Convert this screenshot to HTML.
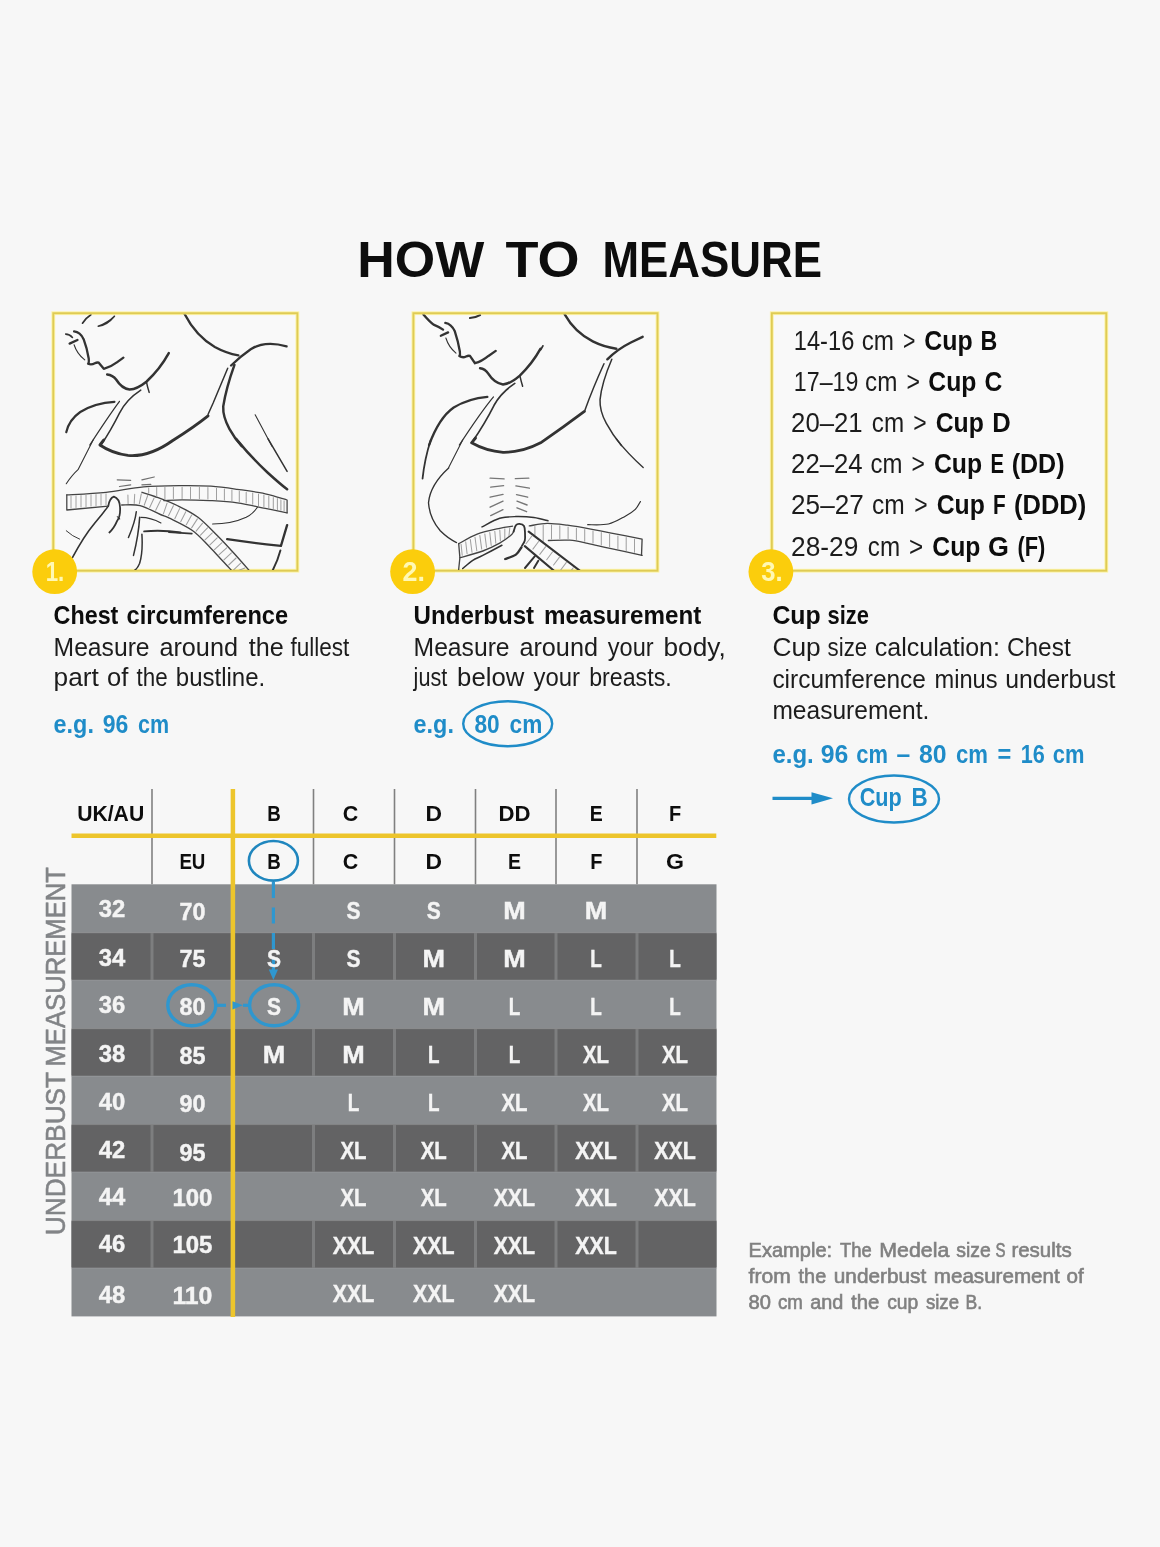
<!DOCTYPE html>
<html lang="en"><head><meta charset="utf-8"><title>How to measure</title>
<style>html,body{margin:0;padding:0;background:#f7f7f7;}body{width:1160px;height:1547px;overflow:hidden;font-family:"Liberation Sans", sans-serif;}svg{display:block;filter:blur(0.55px)}</style>
</head><body>
<svg width="1160" height="1547" viewBox="0 0 1160 1547" font-family='"Liberation Sans", sans-serif'>
<rect width="1160" height="1547" fill="#f7f7f7"/>
<rect x="53.3" y="313.2" width="244.1" height="257.5" fill="#f9f9f9" stroke="#fcf3a6" stroke-width="3.8"/>
<rect x="53.3" y="313.2" width="244.1" height="257.5" fill="none" stroke="#dfcb55" stroke-width="1.9"/>
<rect x="413.4" y="313.2" width="244.1" height="257.5" fill="#f9f9f9" stroke="#fcf3a6" stroke-width="3.8"/>
<rect x="413.4" y="313.2" width="244.1" height="257.5" fill="none" stroke="#dfcb55" stroke-width="1.9"/>
<rect x="771.8" y="313.2" width="334.5" height="257.5" fill="#f9f9f9" stroke="#fcf3a6" stroke-width="3.8"/>
<rect x="771.8" y="313.2" width="334.5" height="257.5" fill="none" stroke="#dfcb55" stroke-width="1.9"/>
<g fill="none" stroke="#333333" stroke-linecap="round" stroke-linejoin="round" clip-path="url(#clip1)">
<clipPath id="clip1"><rect x="54" y="314.5" width="243" height="255.5"/></clipPath>
<g transform="translate(50 310) scale(0.11207)">
<path d="M290 118Q320 70 365 42" stroke-width="14.64"/>
<path d="M430 145Q510 135 575 55Q520 110 430 145Z" stroke-width="13.42" fill="#333"/>
<path d="M140 215Q175 215 200 245" stroke-width="14.64"/>
<path d="M175 300L245 268" stroke-width="20.74"/>
<path d="M215 190Q270 195 300 260Q330 340 345 430Q350 470 340 480Q370 492 400 475Q420 465 435 470L480 525Q540 510 600 465L655 425" stroke-width="20.74"/>
<path d="M215 310Q240 390 310 445" stroke-width="9.76"/>
<path d="M510 575Q560 580 590 620Q640 700 710 710Q780 705 860 640Q980 530 1060 385" stroke-width="21.96"/>
<path d="M860 640Q870 690 885 735" stroke-width="13.42"/>
<path d="M620 815Q520 950 355 1205" stroke-width="10.98"/>
<path d="M810 715Q680 800 620 920Q540 1080 455 1205" stroke-width="13.42"/>
<path d="M575 820Q400 830 270 910Q170 980 145 1090" stroke-width="19.52"/>
</g>
<g transform="translate(170 310) scale(0.11207)">
<path d="M130 35Q230 230 400 330Q500 385 610 405" stroke-width="20.74"/>
<path d="M545 495Q620 420 720 350Q850 270 1040 325" stroke-width="20.74"/>
<path d="M575 490Q500 700 475 860Q470 950 530 1060Q580 1150 640 1215" stroke-width="21.96"/>
<path d="M515 520Q440 700 385 830L340 930" stroke-width="13.42"/>
<path d="M760 935L910 1215" stroke-width="9.76"/>
</g>
<g transform="translate(110 380) scale(0.11207)">
<path d="M-55 535L-90 580Q20 655 160 673Q350 690 560 540Q750 420 875 320" stroke-width="25.62"/>
</g>
<g transform="translate(50 440) scale(0.11207)">
<path d="M385 0L250 265Q200 310 145 390" stroke-width="9.76"/>
<path d="M520 590Q530 520 570 505Q620 520 625 600Q630 680 600 720Q570 790 530 825" stroke-width="15.86"/>
<path d="M600 685Q615 690 622 705" stroke-width="9.76"/>
<path d="M520 590Q470 660 400 740Q300 860 200 1050" stroke-width="14.64"/>
<path d="M770 640Q760 730 700 870" stroke-width="13.42"/>
<path d="M800 690Q790 850 745 1030" stroke-width="13.42"/>
<path d="M820 840Q830 1000 800 1100Q780 1150 750 1165" stroke-width="13.42"/>
<path d="M810 690Q900 690 990 740" stroke-width="9.76"/>
<path d="M840 815Q1000 800 1165 825" stroke-width="17.08"/>
<path d="M145 810Q200 860 265 885" stroke-width="8.54"/>
<path d="M600 355L720 360M620 415L720 400M820 355L930 330M820 400L900 395" stroke-width="10.98" stroke="#707070"/>
</g>
<g transform="translate(170 440) scale(0.11207)">
<path d="M590 -10Q720 150 870 290Q980 390 1045 440" stroke-width="21.96"/>
<path d="M875 -10L1045 280" stroke-width="13.42"/>
<path d="M380 750Q550 750 680 690Q740 660 780 600" stroke-width="9.76"/>
<path d="M-10 822L195 835" stroke-width="14.64"/>
<path d="M510 885Q750 920 990 945L1045 760" stroke-width="20.74"/>
<path d="M985 985Q960 1080 910 1175" stroke-width="17.08"/>
</g>
<path d="M66.8 494.9C73.3 494.5 93.2 493.6 106.0 492.3C118.8 491.0 130.8 487.9 143.6 486.8C156.4 485.7 171.6 485.7 182.8 485.6C194.0 485.5 201.9 485.6 211.0 486.2C220.1 486.8 228.1 488.0 237.2 489.3C246.2 490.6 257.0 492.0 265.3 493.8C273.6 495.6 283.5 499.0 287.1 500.0L287.1 512.8" stroke-width="1.28" stroke="#444"/>
<path d="M66.8 494.9L66.8 510L108.3 506.1" stroke-width="1.28" stroke="#444"/>
<path d="M163.8 500.6C166.8 500.5 174.3 499.8 182.0 499.8C189.7 499.8 200.8 500.1 210.0 500.6C219.2 501.1 228.0 501.5 237.2 502.8C246.4 504.1 257.0 506.7 265.3 508.4C273.6 510.1 283.5 512.1 287.1 512.8" stroke-width="1.28" stroke="#444"/>
<path d="M142.0 492.3C144.1 493.0 148.9 494.3 154.8 496.5C160.7 498.7 170.0 502.0 177.2 505.5C184.4 509.0 191.4 512.3 198.0 517.3C204.6 522.3 211.2 529.5 217.0 535.3C222.8 541.1 227.1 545.8 232.8 552.0C238.5 558.2 248.0 569.1 251.0 572.5" stroke-width="1.37" stroke="#444"/>
<path d="M121.7 505.0C124.8 505.1 133.6 504.0 140.0 505.6C146.4 507.2 155.6 512.5 160.4 514.5C165.2 516.5 163.6 515.2 168.9 517.9C174.2 520.6 185.7 525.7 192.4 530.5C199.1 535.3 204.1 541.4 209.2 546.5C214.2 551.6 218.6 556.7 222.7 561.0C226.8 565.3 231.7 570.6 233.5 572.5" stroke-width="1.37" stroke="#444"/>
<path d="M71.0 496.2V508.0M76.0 495.9V507.5M81.0 495.6V507.1M86.0 495.2V506.6M91.0 494.9V506.1M96.0 494.6V505.7M101.0 494.2V505.2M106.0 493.9V504.7" stroke="#a0a0a0" stroke-width="0.98"/>
<path d="M173.4 487.3V498.6M182.1 487.2V498.4M190.5 487.2V498.5M199.4 487.3V498.7M207.9 487.6V499.1M216.5 488.3V499.6M224.4 489.1V500.1M231.9 490.1V500.7M239.3 491.2V501.7M246.2 492.2V503.0M252.7 493.1V504.3M258.5 494.1V505.6M263.9 495.1V506.7M268.8 496.2V507.7M273.3 497.4V508.6M277.4 498.6V509.4M280.9 499.7V510.2M284.1 500.7V510.8" stroke="#a0a0a0" stroke-width="1.04"/>
<path d="M127.9 495.0L128.1 503.4M134.7 494.2L134.2 503.4M141.3 493.8L139.3 503.8M147.7 495.5L144.2 505.2M154.1 498.0L149.7 507.5M160.5 500.5L155.7 510.3M167.1 503.1L163.4 513.8M173.4 505.7L168.5 515.7M179.6 508.6L174.8 518.8M185.8 511.7L180.7 521.7M191.7 515.1L186.3 524.7M197.4 518.9L191.6 527.9M202.6 523.2L196.1 531.2M207.5 527.9L200.5 535.2M212.3 532.8L205.0 539.8M217.2 537.8L209.9 544.9M222.0 542.7L214.5 549.7M226.7 547.8L219.1 554.7M231.4 552.9L223.9 559.9M236.1 558.0L228.7 565.0M240.7 563.2L233.4 570.1M244.9 567.9L235.1 571.9" stroke="#a0a0a0" stroke-width="1.04"/>
<path d="M148.7 487.9V493.2M156.7 487.5V496.0M164.9 487.3V499.1" stroke="#a0a0a0" stroke-width="1.04"/>
</g>
<g fill="none" stroke="#333333" stroke-linecap="round" stroke-linejoin="round" clip-path="url(#clip2)">
<clipPath id="clip2"><rect x="414" y="314.5" width="243" height="255.5"/></clipPath>
<g transform="translate(410 310) scale(0.11207)">
<path d="M120 40Q170 100 210 130Q260 150 295 175" stroke-width="20.74"/>
<path d="M535 72Q590 65 625 45" stroke-width="18.30"/>
<path d="M275 230L340 200" stroke-width="20.74"/>
<path d="M315 115Q370 125 400 190Q430 280 445 370Q450 400 440 410Q470 430 500 415Q520 405 535 410L580 475Q640 460 700 410L765 365" stroke-width="20.74"/>
<path d="M320 250Q345 330 410 385" stroke-width="9.76"/>
<path d="M625 520Q670 525 700 570Q750 650 830 665Q900 655 980 585Q1090 480 1165 345" stroke-width="21.96"/>
<path d="M980 585Q990 630 1005 680" stroke-width="13.42"/>
<path d="M745 775Q640 900 440 1205" stroke-width="10.98"/>
<path d="M935 655Q810 740 750 850Q670 1010 550 1185" stroke-width="14.64"/>
<path d="M690 775Q520 790 390 870Q260 960 170 1205" stroke-width="20.74"/>
</g>
<g transform="translate(530 310) scale(0.11207)">
<path d="M310 40Q400 200 560 280Q660 330 770 345" stroke-width="21.96"/>
<path d="M690 440Q780 350 900 290L1005 240" stroke-width="21.96"/>
<path d="M95 355Q105 340 115 320" stroke-width="15.86"/>
<path d="M660 480Q560 700 490 895" stroke-width="13.42"/>
<path d="M730 440Q640 650 625 800Q620 900 680 1010Q740 1120 815 1210" stroke-width="13.42"/>
</g>
<g transform="translate(410 440) scale(0.11207)">
<path d="M185 0Q130 170 112 345" stroke-width="15.86"/>
<path d="M470 0L345 245" stroke-width="9.76"/>
<path d="M345 250Q180 400 165 560Q175 700 270 810Q340 880 415 915" stroke-width="12.20"/>
</g>
<g transform="translate(530 440) scale(0.11207)">
<path d="M770 -10Q870 120 1010 245" stroke-width="12.20"/>
</g>
<path d="M475.5 438L471.6 442.8Q486 451 503 452.3Q522 452.6 540.6 442.8Q563 427.5 584.4 411.4" stroke-width="2.81"/>
<path d="M490.1 478.1L504.1 478.9M490.7 487.1L503.6 485.7M490.1 497.2L503 494.4M490.1 507.2L503 501.1M490.7 515.6L503 509.7M515.3 478.7L528.8 478.1M515.9 485.9L529.4 488.2M516.5 494.6L527.7 497.2M517 501.1L527.1 505M517 507.8L526.6 511.7" stroke="#777" stroke-width="1.34"/>
<path d="M482.0 526.9C484.9 525.5 494.0 520.0 499.7 518.3C505.4 516.6 510.3 516.7 516.0 516.6C521.7 516.5 528.5 516.8 533.8 517.5C539.1 518.2 545.6 520.2 548.0 520.8" stroke-width="1.46"/>
<path d="M587.7 524.7C591.2 524.6 602.1 525.4 608.4 524.0C614.7 522.6 620.8 518.6 625.3 516.2C629.8 513.8 632.8 511.8 635.3 509.4C637.8 507.0 639.5 502.9 640.4 501.6" stroke-width="1.22"/>
<path d="M458.7 543.7C461.8 542.1 470.4 536.7 477.2 534.1C484.0 531.5 493.8 529.6 499.7 528.3C505.6 527.0 510.4 526.6 512.5 526.2" stroke-width="1.34" stroke="#444"/>
<path d="M459.9 557.7C463.7 556.6 476.2 553.4 482.8 551.0C489.4 548.6 495.0 545.7 499.7 543.1C504.4 540.5 508.6 537.2 510.9 535.3C513.2 533.4 513.1 532.2 513.6 531.6" stroke-width="1.34" stroke="#444"/>
<path d="M458.7 543.7L459.9 557.7L458.5 571" stroke-width="1.34" stroke="#444"/>
<path d="M462.7 568.5C464.4 567.1 469.4 562.5 472.8 560.3C476.2 558.1 478.0 557.9 482.8 555.4C487.6 552.9 498.7 547.0 501.9 545.3" stroke-width="1.59"/>
<path d="M461.1 544.2L462.2 555.3M465.7 541.8L467.1 553.8M470.3 539.4L472.0 552.3M475.0 537.3L476.8 550.7M479.8 535.4L481.7 549.1M484.8 533.9L486.5 547.3M489.8 532.6L491.2 545.4M494.8 531.3L495.8 543.2M499.8 530.0L500.4 540.9M504.8 528.8L504.8 538.4M509.8 527.8L509.0 535.6" stroke="#a0a0a0" stroke-width="1.04"/>
<path d="M513.6 531.6C514.0 530.5 514.9 526.6 515.9 525.3C516.9 524.0 518.0 523.8 519.4 523.9C520.8 524.0 523.1 524.5 524.0 526.0C524.9 527.5 524.9 530.3 525.0 532.7C525.1 535.1 525.3 538.4 524.8 540.5C524.3 542.6 522.5 544.8 522.0 545.6" stroke-width="1.83"/>
<path d="M521.5 547.2C520.6 548.4 518.6 552.6 515.9 554.6C513.2 556.6 507.0 558.3 505.2 559.0" stroke-width="2.32"/>
<path d="M529.3 525.9C532.3 525.5 540.9 523.4 547.2 523.3C553.6 523.2 559.9 524.2 567.4 525.2C574.9 526.2 585.0 528.0 592.1 529.3C599.2 530.6 601.7 531.1 610.0 532.8C618.3 534.4 636.8 538.1 642.1 539.2L641.5 555.4" stroke-width="1.34" stroke="#444"/>
<path d="M548.4 540.5C552.0 540.5 563.2 539.7 569.7 540.2C576.2 540.7 580.9 541.9 587.6 543.3C594.3 544.7 600.9 546.4 610.0 548.4C619.1 550.4 636.8 554.2 642.1 555.4" stroke-width="1.34" stroke="#444"/>
<path d="M534.9 526.5V534.9M543.2 525.2V541.2M551.5 525.0V538.9M559.8 525.8V538.6M568.1 526.9V538.6M576.4 528.2V539.5M584.7 529.6V541.2M593.0 531.1V543.0M601.3 532.6V544.9M609.6 534.3V546.8M617.9 536.0V548.6M626.2 537.6V550.4M634.5 539.3V552.2" stroke="#a0a0a0" stroke-width="1.04"/>
<path d="M528.7 531.6L580.5 571.2" stroke-width="2.07"/>
<path d="M524.8 546.1L554.5 571.2" stroke-width="2.07"/>
<path d="M531.9 536.0L526.0 543.8M538.8 541.3L532.9 549.1M545.7 546.6L539.8 554.4M552.6 551.8L546.7 559.7M559.5 557.1L553.6 565.0M566.4 562.4L560.5 570.2M573.3 567.7L567.4 575.5" stroke="#a0a0a0" stroke-width="1.04"/>
<path d="M534.9 556.2L525 568M538.3 560.7L534 568" stroke-width="1.95"/>
</g>
<circle cx="54.7" cy="571.7" r="22.4" fill="#fbcd0c"/>
<text x="45.7" y="581.2" font-size="28.5" font-weight="bold" fill="#fff8b4" text-anchor="start" textLength="18.6" lengthAdjust="spacingAndGlyphs">1.</text>
<circle cx="412.6" cy="571.7" r="22.4" fill="#fbcd0c"/>
<text x="402.6" y="581.2" font-size="28.5" font-weight="bold" fill="#fff8b4" text-anchor="start" textLength="22.4" lengthAdjust="spacingAndGlyphs">2.</text>
<circle cx="770.9" cy="571.7" r="22.4" fill="#fbcd0c"/>
<text x="761.2" y="581.2" font-size="28.5" font-weight="bold" fill="#fff8b4" text-anchor="start" textLength="21.4" lengthAdjust="spacingAndGlyphs">3.</text>
<text y="277" font-size="50" font-weight="bold" fill="#0d0d0d"><tspan x="357.2" textLength="127.0" lengthAdjust="spacingAndGlyphs">HOW</tspan> <tspan x="505.5" textLength="74.0" lengthAdjust="spacingAndGlyphs">TO</tspan> <tspan x="602.5" textLength="219.5" lengthAdjust="spacingAndGlyphs">MEASURE</tspan></text>
<text y="623.5" font-size="25" font-weight="bold" fill="#0d0d0d"><tspan x="53.6" textLength="64.8" lengthAdjust="spacingAndGlyphs">Chest</tspan> <tspan x="126.6" textLength="161.5" lengthAdjust="spacingAndGlyphs">circumference</tspan></text>
<text y="656" font-size="25" font-weight="normal" fill="#1c1c1c"><tspan x="53.6" textLength="96.0" lengthAdjust="spacingAndGlyphs">Measure</tspan> <tspan x="159.4" textLength="78.6" lengthAdjust="spacingAndGlyphs">around</tspan> <tspan x="248.8" textLength="35.0" lengthAdjust="spacingAndGlyphs">the</tspan> <tspan x="290.4" textLength="59.0" lengthAdjust="spacingAndGlyphs">fullest</tspan></text>
<text y="686" font-size="25" font-weight="normal" fill="#1c1c1c"><tspan x="53.6" textLength="45.2" lengthAdjust="spacingAndGlyphs">part</tspan> <tspan x="107" textLength="21.3" lengthAdjust="spacingAndGlyphs">of</tspan> <tspan x="136.5" textLength="31.1" lengthAdjust="spacingAndGlyphs">the</tspan> <tspan x="175.8" textLength="89.4" lengthAdjust="spacingAndGlyphs">bustline.</tspan></text>
<text y="733" font-size="25" font-weight="bold" fill="#1f8cc8"><tspan x="53.6" textLength="40.3" lengthAdjust="spacingAndGlyphs">e.g.</tspan> <tspan x="102.7" textLength="25.6" lengthAdjust="spacingAndGlyphs">96</tspan> <tspan x="138.1" textLength="31.1" lengthAdjust="spacingAndGlyphs">cm</tspan></text>
<text y="623.5" font-size="25" font-weight="bold" fill="#0d0d0d"><tspan x="413.6" textLength="120.5" lengthAdjust="spacingAndGlyphs">Underbust</tspan> <tspan x="544" textLength="157.2" lengthAdjust="spacingAndGlyphs">measurement</tspan></text>
<text y="656" font-size="25" font-weight="normal" fill="#1c1c1c"><tspan x="413.6" textLength="96.0" lengthAdjust="spacingAndGlyphs">Measure</tspan> <tspan x="519.4" textLength="78.6" lengthAdjust="spacingAndGlyphs">around</tspan> <tspan x="607.8" textLength="45.9" lengthAdjust="spacingAndGlyphs">your</tspan> <tspan x="663.5" textLength="62.2" lengthAdjust="spacingAndGlyphs">body,</tspan></text>
<text y="686" font-size="25" font-weight="normal" fill="#1c1c1c"><tspan x="413.6" textLength="33.7" lengthAdjust="spacingAndGlyphs">just</tspan> <tspan x="457.1" textLength="67.2" lengthAdjust="spacingAndGlyphs">below</tspan> <tspan x="533.5" textLength="46.5" lengthAdjust="spacingAndGlyphs">your</tspan> <tspan x="589.2" textLength="82.5" lengthAdjust="spacingAndGlyphs">breasts.</tspan></text>
<text y="733" font-size="25" font-weight="bold" fill="#1f8cc8"><tspan x="413.6" textLength="40.3" lengthAdjust="spacingAndGlyphs">e.g.</tspan> <tspan x="474.5" textLength="25.2" lengthAdjust="spacingAndGlyphs">80</tspan> <tspan x="509.6" textLength="32.7" lengthAdjust="spacingAndGlyphs">cm</tspan></text>
<ellipse cx="507.7" cy="723.7" rx="44.5" ry="22.5" fill="none" stroke="#1f8cc8" stroke-width="2.4"/>
<text y="624" font-size="25" font-weight="bold" fill="#0d0d0d"><tspan x="772.4" textLength="48.3" lengthAdjust="spacingAndGlyphs">Cup</tspan> <tspan x="827.6" textLength="41.4" lengthAdjust="spacingAndGlyphs">size</tspan></text>
<text y="656" font-size="25" font-weight="normal" fill="#1c1c1c"><tspan x="772.4" textLength="48.3" lengthAdjust="spacingAndGlyphs">Cup</tspan> <tspan x="827.6" textLength="39.6" lengthAdjust="spacingAndGlyphs">size</tspan> <tspan x="874.8" textLength="125.2" lengthAdjust="spacingAndGlyphs">calculation:</tspan> <tspan x="1006.9" textLength="63.8" lengthAdjust="spacingAndGlyphs">Chest</tspan></text>
<text y="687.5" font-size="25" font-weight="normal" fill="#1c1c1c"><tspan x="772.4" textLength="153.5" lengthAdjust="spacingAndGlyphs">circumference</tspan> <tspan x="934.5" textLength="63.1" lengthAdjust="spacingAndGlyphs">minus</tspan> <tspan x="1005.2" textLength="110.3" lengthAdjust="spacingAndGlyphs">underbust</tspan></text>
<text y="719.3" font-size="25" font-weight="normal" fill="#1c1c1c"><tspan x="772.4" textLength="156.9" lengthAdjust="spacingAndGlyphs">measurement.</tspan></text>
<text y="763" font-size="25" font-weight="bold" fill="#1f8cc8"><tspan x="772.4" textLength="41.4" lengthAdjust="spacingAndGlyphs">e.g.</tspan> <tspan x="820.7" textLength="27.6" lengthAdjust="spacingAndGlyphs">96</tspan> <tspan x="856.2" textLength="31.7" lengthAdjust="spacingAndGlyphs">cm</tspan> <tspan x="896.6" textLength="13.7" lengthAdjust="spacingAndGlyphs">–</tspan> <tspan x="919" textLength="27.6" lengthAdjust="spacingAndGlyphs">80</tspan> <tspan x="955.9" textLength="32.0" lengthAdjust="spacingAndGlyphs">cm</tspan> <tspan x="997.6" textLength="13.8" lengthAdjust="spacingAndGlyphs">=</tspan> <tspan x="1020.7" textLength="24.1" lengthAdjust="spacingAndGlyphs">16</tspan> <tspan x="1052.8" textLength="31.7" lengthAdjust="spacingAndGlyphs">cm</tspan></text>
<path d="M772.5 798.3H815" stroke="#1f8cc8" stroke-width="3.2" fill="none"/>
<path d="M811.5 792.2L833 798.3L811.5 804.4Z" fill="#1f8cc8"/>
<ellipse cx="894" cy="799" rx="45" ry="23.5" fill="none" stroke="#1f8cc8" stroke-width="2.4"/>
<text y="806" font-size="25" font-weight="bold" fill="#1f8cc8"><tspan x="859.7" textLength="42.0" lengthAdjust="spacingAndGlyphs">Cup</tspan> <tspan x="911.4" textLength="16.2" lengthAdjust="spacingAndGlyphs">B</tspan></text>
<text y="349.8" font-size="28" fill="#1c1c1c"><tspan x="793.8" textLength="60.5" lengthAdjust="spacingAndGlyphs">14-16</tspan> <tspan x="861.7" textLength="32.3" lengthAdjust="spacingAndGlyphs">cm</tspan> <tspan x="903.1" textLength="12.4" lengthAdjust="spacingAndGlyphs">&gt;</tspan> <tspan fill="#0d0d0d"><tspan x="924.3" font-weight="bold" textLength="48.4" lengthAdjust="spacingAndGlyphs">Cup</tspan> <tspan x="980.4" font-weight="bold" textLength="16.8" lengthAdjust="spacingAndGlyphs">B</tspan></tspan></text>
<text y="390.9" font-size="28" fill="#1c1c1c"><tspan x="793.8" textLength="64.6" lengthAdjust="spacingAndGlyphs">17–19</tspan> <tspan x="865.1" textLength="32.3" lengthAdjust="spacingAndGlyphs">cm</tspan> <tspan x="906.4" textLength="13.5" lengthAdjust="spacingAndGlyphs">&gt;</tspan> <tspan fill="#0d0d0d"><tspan x="928.3" font-weight="bold" textLength="48.1" lengthAdjust="spacingAndGlyphs">Cup</tspan> <tspan x="984.5" font-weight="bold" textLength="17.8" lengthAdjust="spacingAndGlyphs">C</tspan></tspan></text>
<text y="432.1" font-size="28" fill="#1c1c1c"><tspan x="791.1" textLength="71.6" lengthAdjust="spacingAndGlyphs">20–21</tspan> <tspan x="871.8" textLength="32.3" lengthAdjust="spacingAndGlyphs">cm</tspan> <tspan x="913.2" textLength="13.4" lengthAdjust="spacingAndGlyphs">&gt;</tspan> <tspan fill="#0d0d0d"><tspan x="935.7" font-weight="bold" textLength="48.1" lengthAdjust="spacingAndGlyphs">Cup</tspan> <tspan x="992.2" font-weight="bold" textLength="18.5" lengthAdjust="spacingAndGlyphs">D</tspan></tspan></text>
<text y="473.2" font-size="28" fill="#1c1c1c"><tspan x="791.1" textLength="71.6" lengthAdjust="spacingAndGlyphs">22–24</tspan> <tspan x="870.5" textLength="31.9" lengthAdjust="spacingAndGlyphs">cm</tspan> <tspan x="911.5" textLength="13.4" lengthAdjust="spacingAndGlyphs">&gt;</tspan> <tspan fill="#0d0d0d"><tspan x="934" font-weight="bold" textLength="48.1" lengthAdjust="spacingAndGlyphs">Cup</tspan> <tspan x="990.5" font-weight="bold" textLength="13.5" lengthAdjust="spacingAndGlyphs">E</tspan> <tspan x="1011.7" font-weight="bold" textLength="52.8" lengthAdjust="spacingAndGlyphs">(DD)</tspan></tspan></text>
<text y="514.4" font-size="28" fill="#1c1c1c"><tspan x="791.1" textLength="72.6" lengthAdjust="spacingAndGlyphs">25–27</tspan> <tspan x="872.1" textLength="32.7" lengthAdjust="spacingAndGlyphs">cm</tspan> <tspan x="914.2" textLength="13.4" lengthAdjust="spacingAndGlyphs">&gt;</tspan> <tspan fill="#0d0d0d"><tspan x="936.7" font-weight="bold" textLength="48.1" lengthAdjust="spacingAndGlyphs">Cup</tspan> <tspan x="992.9" font-weight="bold" textLength="12.7" lengthAdjust="spacingAndGlyphs">F</tspan> <tspan x="1014" font-weight="bold" textLength="72.3" lengthAdjust="spacingAndGlyphs">(DDD)</tspan></tspan></text>
<text y="555.5" font-size="28" fill="#1c1c1c"><tspan x="791.1" textLength="67.3" lengthAdjust="spacingAndGlyphs">28-29</tspan> <tspan x="867.8" textLength="32.3" lengthAdjust="spacingAndGlyphs">cm</tspan> <tspan x="909.1" textLength="14.2" lengthAdjust="spacingAndGlyphs">&gt;</tspan> <tspan fill="#0d0d0d"><tspan x="932.3" font-weight="bold" textLength="48.1" lengthAdjust="spacingAndGlyphs">Cup</tspan> <tspan x="988.1" font-weight="bold" textLength="20.9" lengthAdjust="spacingAndGlyphs">G</tspan> <tspan x="1017.4" font-weight="bold" textLength="27.9" lengthAdjust="spacingAndGlyphs">(F)</tspan></tspan></text>
<rect x="71.5" y="884.3" width="645.0" height="48.3" fill="#888b8e"/>
<rect x="71.5" y="932.3" width="645.0" height="48.3" fill="#7d7e7f"/>
<rect x="71.5" y="933.3" width="79.0" height="46.3" fill="#636364"/>
<rect x="153.5" y="933.3" width="78.0" height="46.3" fill="#636364"/>
<rect x="234.5" y="933.3" width="77.5" height="46.3" fill="#636364"/>
<rect x="315.0" y="933.3" width="78.0" height="46.3" fill="#636364"/>
<rect x="396.0" y="933.3" width="78.0" height="46.3" fill="#636364"/>
<rect x="477.0" y="933.3" width="77.5" height="46.3" fill="#636364"/>
<rect x="557.5" y="933.3" width="78.0" height="46.3" fill="#636364"/>
<rect x="638.5" y="933.3" width="78.0" height="46.3" fill="#636364"/>
<rect x="71.5" y="980.2" width="645.0" height="48.3" fill="#888b8e"/>
<rect x="71.5" y="1028.2" width="645.0" height="48.3" fill="#7d7e7f"/>
<rect x="71.5" y="1029.2" width="79.0" height="46.3" fill="#636364"/>
<rect x="153.5" y="1029.2" width="78.0" height="46.3" fill="#636364"/>
<rect x="234.5" y="1029.2" width="77.5" height="46.3" fill="#636364"/>
<rect x="315.0" y="1029.2" width="78.0" height="46.3" fill="#636364"/>
<rect x="396.0" y="1029.2" width="78.0" height="46.3" fill="#636364"/>
<rect x="477.0" y="1029.2" width="77.5" height="46.3" fill="#636364"/>
<rect x="557.5" y="1029.2" width="78.0" height="46.3" fill="#636364"/>
<rect x="638.5" y="1029.2" width="78.0" height="46.3" fill="#636364"/>
<rect x="71.5" y="1076.2" width="645.0" height="48.3" fill="#888b8e"/>
<rect x="71.5" y="1124.1" width="645.0" height="48.3" fill="#7d7e7f"/>
<rect x="71.5" y="1125.1" width="79.0" height="46.3" fill="#636364"/>
<rect x="153.5" y="1125.1" width="78.0" height="46.3" fill="#636364"/>
<rect x="234.5" y="1125.1" width="77.5" height="46.3" fill="#636364"/>
<rect x="315.0" y="1125.1" width="78.0" height="46.3" fill="#636364"/>
<rect x="396.0" y="1125.1" width="78.0" height="46.3" fill="#636364"/>
<rect x="477.0" y="1125.1" width="77.5" height="46.3" fill="#636364"/>
<rect x="557.5" y="1125.1" width="78.0" height="46.3" fill="#636364"/>
<rect x="638.5" y="1125.1" width="78.0" height="46.3" fill="#636364"/>
<rect x="71.5" y="1172.1" width="645.0" height="48.3" fill="#888b8e"/>
<rect x="71.5" y="1220.1" width="645.0" height="48.3" fill="#7d7e7f"/>
<rect x="71.5" y="1221.1" width="79.0" height="46.3" fill="#636364"/>
<rect x="153.5" y="1221.1" width="78.0" height="46.3" fill="#636364"/>
<rect x="234.5" y="1221.1" width="77.5" height="46.3" fill="#636364"/>
<rect x="315.0" y="1221.1" width="78.0" height="46.3" fill="#636364"/>
<rect x="396.0" y="1221.1" width="78.0" height="46.3" fill="#636364"/>
<rect x="477.0" y="1221.1" width="77.5" height="46.3" fill="#636364"/>
<rect x="557.5" y="1221.1" width="78.0" height="46.3" fill="#636364"/>
<rect x="638.5" y="1221.1" width="78.0" height="46.3" fill="#636364"/>
<rect x="71.5" y="1268.1" width="645.0" height="48.3" fill="#888b8e"/>
<path d="M152 789V884.3" stroke="#808080" stroke-width="1.6"/>
<path d="M313.5 789V884.3" stroke="#808080" stroke-width="1.6"/>
<path d="M394.5 789V884.3" stroke="#808080" stroke-width="1.6"/>
<path d="M475.5 789V884.3" stroke="#808080" stroke-width="1.6"/>
<path d="M556 789V884.3" stroke="#808080" stroke-width="1.6"/>
<path d="M637 789V884.3" stroke="#808080" stroke-width="1.6"/>
<path d="M71.5 835.7H716.3" stroke="#edc52c" stroke-width="4.4"/>
<path d="M232.9 789V1317" stroke="#edc52c" stroke-width="4.5"/>
<ellipse cx="273.4" cy="860.8" rx="24.5" ry="19.8" fill="none" stroke="#1f86be" stroke-width="2.6"/>
<ellipse cx="191.8" cy="1005.2" rx="24" ry="20.5" fill="none" stroke="#2f97cf" stroke-width="3.4"/>
<ellipse cx="274.1" cy="1005.2" rx="24.5" ry="20.5" fill="none" stroke="#2f97cf" stroke-width="3.4"/>
<path d="M273.4 882V970" stroke="#2f97cf" stroke-width="3.2" stroke-dasharray="16 9.5" fill="none"/>
<path d="M268.8 969.5H278L273.4 980Z" fill="#2f97cf"/>
<path d="M217 1005.3H226" stroke="#2f97cf" stroke-width="3.2" fill="none"/>
<path d="M232.5 1001.2V1009.4L243 1005.3Z" fill="#2f97cf"/>
<path d="M243 1005.3H249" stroke="#2f97cf" stroke-width="3.2" fill="none"/>
<text x="110.7" y="820.8" font-size="21.5" font-weight="bold" fill="#0d0d0d" text-anchor="middle" textLength="67" lengthAdjust="spacingAndGlyphs">UK/AU</text>
<text x="192.4" y="868.8" font-size="21.5" font-weight="bold" fill="#0d0d0d" text-anchor="middle" textLength="26" lengthAdjust="spacingAndGlyphs">EU</text>
<text x="274" y="820.6" font-size="21.5" font-weight="bold" fill="#0d0d0d" text-anchor="middle" textLength="13.5" lengthAdjust="spacingAndGlyphs">B</text>
<text x="350.5" y="820.6" font-size="21.5" font-weight="bold" fill="#0d0d0d" text-anchor="middle" textLength="15.5" lengthAdjust="spacingAndGlyphs">C</text>
<text x="433.7" y="820.6" font-size="21.5" font-weight="bold" fill="#0d0d0d" text-anchor="middle" textLength="16.5" lengthAdjust="spacingAndGlyphs">D</text>
<text x="514.4" y="820.6" font-size="21.5" font-weight="bold" fill="#0d0d0d" text-anchor="middle" textLength="32" lengthAdjust="spacingAndGlyphs">DD</text>
<text x="596.3" y="820.6" font-size="21.5" font-weight="bold" fill="#0d0d0d" text-anchor="middle" textLength="13" lengthAdjust="spacingAndGlyphs">E</text>
<text x="675" y="820.6" font-size="21.5" font-weight="bold" fill="#0d0d0d" text-anchor="middle" textLength="12.2" lengthAdjust="spacingAndGlyphs">F</text>
<text x="274" y="868.8" font-size="21.5" font-weight="bold" fill="#0d0d0d" text-anchor="middle" textLength="13.5" lengthAdjust="spacingAndGlyphs">B</text>
<text x="350.5" y="868.8" font-size="21.5" font-weight="bold" fill="#0d0d0d" text-anchor="middle" textLength="15.5" lengthAdjust="spacingAndGlyphs">C</text>
<text x="433.7" y="868.8" font-size="21.5" font-weight="bold" fill="#0d0d0d" text-anchor="middle" textLength="16.5" lengthAdjust="spacingAndGlyphs">D</text>
<text x="514.4" y="868.8" font-size="21.5" font-weight="bold" fill="#0d0d0d" text-anchor="middle" textLength="13" lengthAdjust="spacingAndGlyphs">E</text>
<text x="596.3" y="868.8" font-size="21.5" font-weight="bold" fill="#0d0d0d" text-anchor="middle" textLength="12.2" lengthAdjust="spacingAndGlyphs">F</text>
<text x="675" y="868.8" font-size="21.5" font-weight="bold" fill="#0d0d0d" text-anchor="middle" textLength="18" lengthAdjust="spacingAndGlyphs">G</text>
<text x="112" y="917.2" font-size="24.5" font-weight="bold" fill="#f4f4f4" text-anchor="middle" textLength="26.5" lengthAdjust="spacingAndGlyphs" stroke="#f4f4f4" stroke-width="0.45">32</text>
<text x="192.4" y="919.5" font-size="24.5" font-weight="bold" fill="#f4f4f4" text-anchor="middle" textLength="26" lengthAdjust="spacingAndGlyphs" stroke="#f4f4f4" stroke-width="0.45">70</text>
<text x="112" y="965.5" font-size="24.5" font-weight="bold" fill="#f4f4f4" text-anchor="middle" textLength="26.5" lengthAdjust="spacingAndGlyphs" stroke="#f4f4f4" stroke-width="0.45">34</text>
<text x="192.4" y="967.3" font-size="24.5" font-weight="bold" fill="#f4f4f4" text-anchor="middle" textLength="26" lengthAdjust="spacingAndGlyphs" stroke="#f4f4f4" stroke-width="0.45">75</text>
<text x="112" y="1013.3" font-size="24.5" font-weight="bold" fill="#f4f4f4" text-anchor="middle" textLength="26.5" lengthAdjust="spacingAndGlyphs" stroke="#f4f4f4" stroke-width="0.45">36</text>
<text x="192.4" y="1015.4" font-size="24.5" font-weight="bold" fill="#f4f4f4" text-anchor="middle" textLength="26" lengthAdjust="spacingAndGlyphs" stroke="#f4f4f4" stroke-width="0.45">80</text>
<text x="112" y="1062.3" font-size="24.5" font-weight="bold" fill="#f4f4f4" text-anchor="middle" textLength="26.5" lengthAdjust="spacingAndGlyphs" stroke="#f4f4f4" stroke-width="0.45">38</text>
<text x="192.4" y="1063.6" font-size="24.5" font-weight="bold" fill="#f4f4f4" text-anchor="middle" textLength="26" lengthAdjust="spacingAndGlyphs" stroke="#f4f4f4" stroke-width="0.45">85</text>
<text x="112" y="1109.5" font-size="24.5" font-weight="bold" fill="#f4f4f4" text-anchor="middle" textLength="26.5" lengthAdjust="spacingAndGlyphs" stroke="#f4f4f4" stroke-width="0.45">40</text>
<text x="192.4" y="1111.8" font-size="24.5" font-weight="bold" fill="#f4f4f4" text-anchor="middle" textLength="26" lengthAdjust="spacingAndGlyphs" stroke="#f4f4f4" stroke-width="0.45">90</text>
<text x="112" y="1158" font-size="24.5" font-weight="bold" fill="#f4f4f4" text-anchor="middle" textLength="26.5" lengthAdjust="spacingAndGlyphs" stroke="#f4f4f4" stroke-width="0.45">42</text>
<text x="192.4" y="1160.6" font-size="24.5" font-weight="bold" fill="#f4f4f4" text-anchor="middle" textLength="26" lengthAdjust="spacingAndGlyphs" stroke="#f4f4f4" stroke-width="0.45">95</text>
<text x="112" y="1205.2" font-size="24.5" font-weight="bold" fill="#f4f4f4" text-anchor="middle" textLength="26.5" lengthAdjust="spacingAndGlyphs" stroke="#f4f4f4" stroke-width="0.45">44</text>
<text x="192.4" y="1205.9" font-size="24.5" font-weight="bold" fill="#f4f4f4" text-anchor="middle" textLength="40" lengthAdjust="spacingAndGlyphs" stroke="#f4f4f4" stroke-width="0.45">100</text>
<text x="112" y="1252" font-size="24.5" font-weight="bold" fill="#f4f4f4" text-anchor="middle" textLength="26.5" lengthAdjust="spacingAndGlyphs" stroke="#f4f4f4" stroke-width="0.45">46</text>
<text x="192.4" y="1252.8" font-size="24.5" font-weight="bold" fill="#f4f4f4" text-anchor="middle" textLength="40" lengthAdjust="spacingAndGlyphs" stroke="#f4f4f4" stroke-width="0.45">105</text>
<text x="112" y="1303.2" font-size="24.5" font-weight="bold" fill="#f4f4f4" text-anchor="middle" textLength="26.5" lengthAdjust="spacingAndGlyphs" stroke="#f4f4f4" stroke-width="0.45">48</text>
<text x="192.4" y="1304.1" font-size="24.5" font-weight="bold" fill="#f4f4f4" text-anchor="middle" textLength="40" lengthAdjust="spacingAndGlyphs" stroke="#f4f4f4" stroke-width="0.45">110</text>
<text x="353.5" y="919" font-size="24.5" font-weight="bold" fill="#f4f4f4" text-anchor="middle" textLength="14" lengthAdjust="spacingAndGlyphs" stroke="#f4f4f4" stroke-width="0.45">S</text>
<text x="433.7" y="919" font-size="24.5" font-weight="bold" fill="#f4f4f4" text-anchor="middle" textLength="14" lengthAdjust="spacingAndGlyphs" stroke="#f4f4f4" stroke-width="0.45">S</text>
<text x="514.4" y="919" font-size="24.5" font-weight="bold" fill="#f4f4f4" text-anchor="middle" textLength="22.5" lengthAdjust="spacingAndGlyphs" stroke="#f4f4f4" stroke-width="0.45">M</text>
<text x="596" y="919" font-size="24.5" font-weight="bold" fill="#f4f4f4" text-anchor="middle" textLength="22.5" lengthAdjust="spacingAndGlyphs" stroke="#f4f4f4" stroke-width="0.45">M</text>
<text x="274" y="967.3" font-size="24.5" font-weight="bold" fill="#f4f4f4" text-anchor="middle" textLength="14" lengthAdjust="spacingAndGlyphs" stroke="#f4f4f4" stroke-width="0.45">S</text>
<text x="353.5" y="967.3" font-size="24.5" font-weight="bold" fill="#f4f4f4" text-anchor="middle" textLength="14" lengthAdjust="spacingAndGlyphs" stroke="#f4f4f4" stroke-width="0.45">S</text>
<text x="433.7" y="967.3" font-size="24.5" font-weight="bold" fill="#f4f4f4" text-anchor="middle" textLength="22.5" lengthAdjust="spacingAndGlyphs" stroke="#f4f4f4" stroke-width="0.45">M</text>
<text x="514.4" y="967.3" font-size="24.5" font-weight="bold" fill="#f4f4f4" text-anchor="middle" textLength="22.5" lengthAdjust="spacingAndGlyphs" stroke="#f4f4f4" stroke-width="0.45">M</text>
<text x="596" y="967.3" font-size="24.5" font-weight="bold" fill="#f4f4f4" text-anchor="middle" textLength="11.5" lengthAdjust="spacingAndGlyphs" stroke="#f4f4f4" stroke-width="0.45">L</text>
<text x="675" y="967.3" font-size="24.5" font-weight="bold" fill="#f4f4f4" text-anchor="middle" textLength="11.5" lengthAdjust="spacingAndGlyphs" stroke="#f4f4f4" stroke-width="0.45">L</text>
<text x="274" y="1014.5" font-size="24.5" font-weight="bold" fill="#f4f4f4" text-anchor="middle" textLength="14" lengthAdjust="spacingAndGlyphs" stroke="#f4f4f4" stroke-width="0.45">S</text>
<text x="353.5" y="1014.5" font-size="24.5" font-weight="bold" fill="#f4f4f4" text-anchor="middle" textLength="22.5" lengthAdjust="spacingAndGlyphs" stroke="#f4f4f4" stroke-width="0.45">M</text>
<text x="433.7" y="1014.5" font-size="24.5" font-weight="bold" fill="#f4f4f4" text-anchor="middle" textLength="22.5" lengthAdjust="spacingAndGlyphs" stroke="#f4f4f4" stroke-width="0.45">M</text>
<text x="514.4" y="1014.5" font-size="24.5" font-weight="bold" fill="#f4f4f4" text-anchor="middle" textLength="11.5" lengthAdjust="spacingAndGlyphs" stroke="#f4f4f4" stroke-width="0.45">L</text>
<text x="596" y="1014.5" font-size="24.5" font-weight="bold" fill="#f4f4f4" text-anchor="middle" textLength="11.5" lengthAdjust="spacingAndGlyphs" stroke="#f4f4f4" stroke-width="0.45">L</text>
<text x="675" y="1014.5" font-size="24.5" font-weight="bold" fill="#f4f4f4" text-anchor="middle" textLength="11.5" lengthAdjust="spacingAndGlyphs" stroke="#f4f4f4" stroke-width="0.45">L</text>
<text x="274" y="1062.5" font-size="24.5" font-weight="bold" fill="#f4f4f4" text-anchor="middle" textLength="22.5" lengthAdjust="spacingAndGlyphs" stroke="#f4f4f4" stroke-width="0.45">M</text>
<text x="353.5" y="1062.5" font-size="24.5" font-weight="bold" fill="#f4f4f4" text-anchor="middle" textLength="22.5" lengthAdjust="spacingAndGlyphs" stroke="#f4f4f4" stroke-width="0.45">M</text>
<text x="433.7" y="1062.5" font-size="24.5" font-weight="bold" fill="#f4f4f4" text-anchor="middle" textLength="11.5" lengthAdjust="spacingAndGlyphs" stroke="#f4f4f4" stroke-width="0.45">L</text>
<text x="514.4" y="1062.5" font-size="24.5" font-weight="bold" fill="#f4f4f4" text-anchor="middle" textLength="11.5" lengthAdjust="spacingAndGlyphs" stroke="#f4f4f4" stroke-width="0.45">L</text>
<text x="596" y="1062.5" font-size="24.5" font-weight="bold" fill="#f4f4f4" text-anchor="middle" textLength="26" lengthAdjust="spacingAndGlyphs" stroke="#f4f4f4" stroke-width="0.45">XL</text>
<text x="675" y="1062.5" font-size="24.5" font-weight="bold" fill="#f4f4f4" text-anchor="middle" textLength="26" lengthAdjust="spacingAndGlyphs" stroke="#f4f4f4" stroke-width="0.45">XL</text>
<text x="353.5" y="1110.5" font-size="24.5" font-weight="bold" fill="#f4f4f4" text-anchor="middle" textLength="11.5" lengthAdjust="spacingAndGlyphs" stroke="#f4f4f4" stroke-width="0.45">L</text>
<text x="433.7" y="1110.5" font-size="24.5" font-weight="bold" fill="#f4f4f4" text-anchor="middle" textLength="11.5" lengthAdjust="spacingAndGlyphs" stroke="#f4f4f4" stroke-width="0.45">L</text>
<text x="514.4" y="1110.5" font-size="24.5" font-weight="bold" fill="#f4f4f4" text-anchor="middle" textLength="26" lengthAdjust="spacingAndGlyphs" stroke="#f4f4f4" stroke-width="0.45">XL</text>
<text x="596" y="1110.5" font-size="24.5" font-weight="bold" fill="#f4f4f4" text-anchor="middle" textLength="26" lengthAdjust="spacingAndGlyphs" stroke="#f4f4f4" stroke-width="0.45">XL</text>
<text x="675" y="1110.5" font-size="24.5" font-weight="bold" fill="#f4f4f4" text-anchor="middle" textLength="26" lengthAdjust="spacingAndGlyphs" stroke="#f4f4f4" stroke-width="0.45">XL</text>
<text x="353.5" y="1158.5" font-size="24.5" font-weight="bold" fill="#f4f4f4" text-anchor="middle" textLength="26" lengthAdjust="spacingAndGlyphs" stroke="#f4f4f4" stroke-width="0.45">XL</text>
<text x="433.7" y="1158.5" font-size="24.5" font-weight="bold" fill="#f4f4f4" text-anchor="middle" textLength="26" lengthAdjust="spacingAndGlyphs" stroke="#f4f4f4" stroke-width="0.45">XL</text>
<text x="514.4" y="1158.5" font-size="24.5" font-weight="bold" fill="#f4f4f4" text-anchor="middle" textLength="26" lengthAdjust="spacingAndGlyphs" stroke="#f4f4f4" stroke-width="0.45">XL</text>
<text x="596" y="1158.5" font-size="24.5" font-weight="bold" fill="#f4f4f4" text-anchor="middle" textLength="41.5" lengthAdjust="spacingAndGlyphs" stroke="#f4f4f4" stroke-width="0.45">XXL</text>
<text x="675" y="1158.5" font-size="24.5" font-weight="bold" fill="#f4f4f4" text-anchor="middle" textLength="41.5" lengthAdjust="spacingAndGlyphs" stroke="#f4f4f4" stroke-width="0.45">XXL</text>
<text x="353.5" y="1205.5" font-size="24.5" font-weight="bold" fill="#f4f4f4" text-anchor="middle" textLength="26" lengthAdjust="spacingAndGlyphs" stroke="#f4f4f4" stroke-width="0.45">XL</text>
<text x="433.7" y="1205.5" font-size="24.5" font-weight="bold" fill="#f4f4f4" text-anchor="middle" textLength="26" lengthAdjust="spacingAndGlyphs" stroke="#f4f4f4" stroke-width="0.45">XL</text>
<text x="514.4" y="1205.5" font-size="24.5" font-weight="bold" fill="#f4f4f4" text-anchor="middle" textLength="41.5" lengthAdjust="spacingAndGlyphs" stroke="#f4f4f4" stroke-width="0.45">XXL</text>
<text x="596" y="1205.5" font-size="24.5" font-weight="bold" fill="#f4f4f4" text-anchor="middle" textLength="41.5" lengthAdjust="spacingAndGlyphs" stroke="#f4f4f4" stroke-width="0.45">XXL</text>
<text x="675" y="1205.5" font-size="24.5" font-weight="bold" fill="#f4f4f4" text-anchor="middle" textLength="41.5" lengthAdjust="spacingAndGlyphs" stroke="#f4f4f4" stroke-width="0.45">XXL</text>
<text x="353.5" y="1253.5" font-size="24.5" font-weight="bold" fill="#f4f4f4" text-anchor="middle" textLength="41.5" lengthAdjust="spacingAndGlyphs" stroke="#f4f4f4" stroke-width="0.45">XXL</text>
<text x="433.7" y="1253.5" font-size="24.5" font-weight="bold" fill="#f4f4f4" text-anchor="middle" textLength="41.5" lengthAdjust="spacingAndGlyphs" stroke="#f4f4f4" stroke-width="0.45">XXL</text>
<text x="514.4" y="1253.5" font-size="24.5" font-weight="bold" fill="#f4f4f4" text-anchor="middle" textLength="41.5" lengthAdjust="spacingAndGlyphs" stroke="#f4f4f4" stroke-width="0.45">XXL</text>
<text x="596" y="1253.5" font-size="24.5" font-weight="bold" fill="#f4f4f4" text-anchor="middle" textLength="41.5" lengthAdjust="spacingAndGlyphs" stroke="#f4f4f4" stroke-width="0.45">XXL</text>
<text x="353.5" y="1301.5" font-size="24.5" font-weight="bold" fill="#f4f4f4" text-anchor="middle" textLength="41.5" lengthAdjust="spacingAndGlyphs" stroke="#f4f4f4" stroke-width="0.45">XXL</text>
<text x="433.7" y="1301.5" font-size="24.5" font-weight="bold" fill="#f4f4f4" text-anchor="middle" textLength="41.5" lengthAdjust="spacingAndGlyphs" stroke="#f4f4f4" stroke-width="0.45">XXL</text>
<text x="514.4" y="1301.5" font-size="24.5" font-weight="bold" fill="#f4f4f4" text-anchor="middle" textLength="41.5" lengthAdjust="spacingAndGlyphs" stroke="#f4f4f4" stroke-width="0.45">XXL</text>
<text transform="translate(64.6 1235.3) rotate(-90)" font-size="27" fill="#828487" stroke="#828487" stroke-width="0.55"><tspan x="0" y="0" textLength="163" lengthAdjust="spacingAndGlyphs">UNDERBUST</tspan> <tspan x="168.8" y="0" textLength="199.4" lengthAdjust="spacingAndGlyphs">MEASUREMENT</tspan></text>
<text y="1257.2" font-size="20.5" font-weight="normal" fill="#808080" stroke="#808080" stroke-width="0.62"><tspan x="748.6" textLength="83.5" lengthAdjust="spacingAndGlyphs">Example:</tspan> <tspan x="840" textLength="31.7" lengthAdjust="spacingAndGlyphs">The</tspan> <tspan x="879.3" textLength="70.0" lengthAdjust="spacingAndGlyphs">Medela</tspan> <tspan x="956.2" textLength="34.5" lengthAdjust="spacingAndGlyphs">size</tspan> <tspan x="995.4" textLength="10.0" lengthAdjust="spacingAndGlyphs">S</tspan> <tspan x="1011.4" textLength="60.3" lengthAdjust="spacingAndGlyphs">results</tspan></text>
<text y="1283.1" font-size="20.5" font-weight="normal" fill="#808080" stroke="#808080" stroke-width="0.62"><tspan x="748.6" textLength="42.1" lengthAdjust="spacingAndGlyphs">from</tspan> <tspan x="798.6" textLength="27.6" lengthAdjust="spacingAndGlyphs">the</tspan> <tspan x="833.8" textLength="92.4" lengthAdjust="spacingAndGlyphs">underbust</tspan> <tspan x="933.8" textLength="125.9" lengthAdjust="spacingAndGlyphs">measurement</tspan> <tspan x="1066.6" textLength="17.2" lengthAdjust="spacingAndGlyphs">of</tspan></text>
<text y="1308.6" font-size="20.5" font-weight="normal" fill="#808080" stroke="#808080" stroke-width="0.62"><tspan x="748.6" textLength="22.4" lengthAdjust="spacingAndGlyphs">80</tspan> <tspan x="777.9" textLength="24.9" lengthAdjust="spacingAndGlyphs">cm</tspan> <tspan x="810.3" textLength="33.1" lengthAdjust="spacingAndGlyphs">and</tspan> <tspan x="851" textLength="28.3" lengthAdjust="spacingAndGlyphs">the</tspan> <tspan x="887.2" textLength="31.1" lengthAdjust="spacingAndGlyphs">cup</tspan> <tspan x="925.9" textLength="33.1" lengthAdjust="spacingAndGlyphs">size</tspan> <tspan x="965.5" textLength="16.6" lengthAdjust="spacingAndGlyphs">B.</tspan></text>
</svg>
</body></html>
